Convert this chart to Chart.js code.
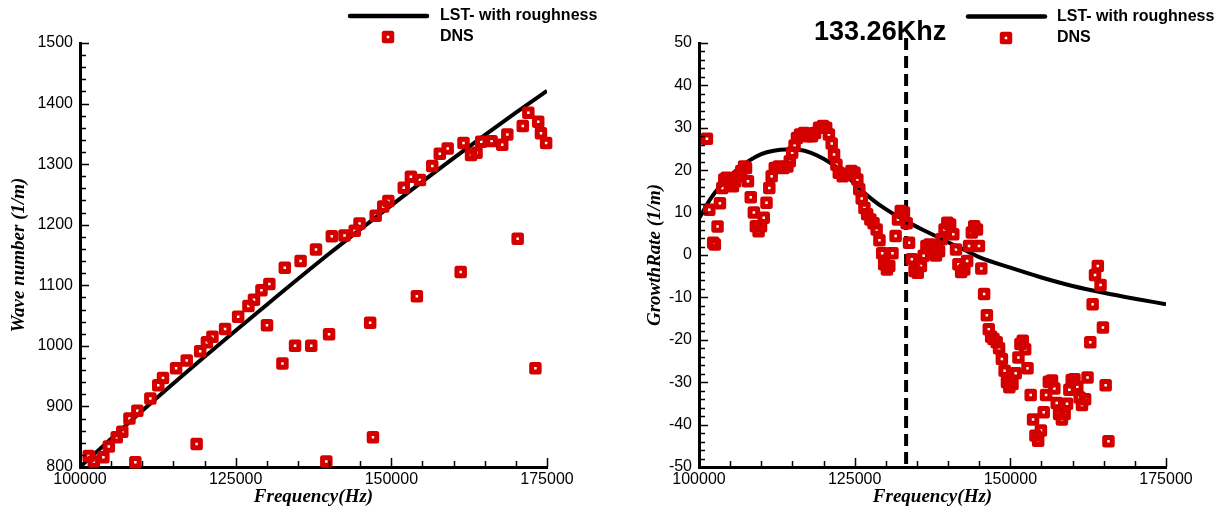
<!DOCTYPE html>
<html>
<head>
<meta charset="utf-8">
<script src="https://cdn.jsdelivr.net/npm/chart.js@4.4.0/dist/chart.umd.min.js"></script>
<style>
body{margin:0;background:#fff;}
.panel{position:absolute;top:0;width:614px;height:514px;}
#left{left:0;}
#right{left:614px;}
</style>
</head>
<body>
<div class="panel" id="left"><canvas id="waveChart" width="614" height="514"></canvas></div>
<div class="panel" id="right"><canvas id="growthChart" width="614" height="514"></canvas></div>
<script>
// wave number against frequency
const waveLstFreq=[100000,110000,120000,130000,140000,150000,160000,170000,175000];
const waveLst=[800,893,982,1068,1152,1232,1310,1385,1421];

const waveDnsFreq=[101400,102220,103750,104630,105900,106790,107940,108890,109210,111300,
112570,113330,115430,117140,118730,119300,120380,121270,123300,125400,
127050,127940,129140,130410,130030,132510,132890,134540,135430,137140,
137900,139560,140000,140440,142480,144130,144890,146600,147050,147490,
148700,149520,152000,153140,154600,154100,156570,157780,159050,161140,
161590,162800,163680,164440,166100,167810,168630,170290,171110,172000,
173140,173590,174030,174860];
const waveDns=[818,809,816,834,849,858,880,808,893,913,
935,947,963,976,838,991,1006,1015,1028,1048,
1066,1076,1092,1102,1034,971,1129,1000,1140,1000,
1159,809,1019,1181,1182,1190,1202,1038,849,1215,
1230,1239,1261,1279,1274,1082,1297,1317,1326,1122,
1335,1315,1319,1337,1338,1332,1349,1177,1363,1385,
963,1370,1351,1335];

// growth rate against frequency
const growthLstFreq=[100000,102000,104000,106000,108000,110000,112000,114000,116000,118000,
120000,122000,124000,126000,128000,130000,132000,134000,136000,138000,
140000,142500,145000,150000,155000,160000,165000,170000,175000];
const growthLst=[8.6,13.6,17.2,20.0,22.2,23.8,24.6,24.9,24.8,24.1,
22.7,20.8,18.2,15.4,12.9,10.8,9.0,7.4,5.9,4.5,
3.0,1.3,-0.5,-3.0,-5.3,-7.3,-8.9,-10.3,-11.6];

const growthDnsFreq=[101270,101650,102280,102540,102980,103360,103740,104060,104440,105010,
105450,105830,106280,106790,107230,107550,107860,108310,108810,109130,
109570,109960,110400,110840,111290,111670,112170,112810,113570,114200,
114580,114960,115350,115730,116230,116870,117500,118140,118640,119280,
119910,120420,120860,121310,121690,122070,122450,123080,123720,124480,
124980,125430,125740,126130,126570,127010,127520,128030,128530,128980,
129420,129740,130180,130560,131070,131580,131960,132400,132910,133350,
133730,134180,134620,135130,135640,136080,136520,137030,137540,138050,
138550,138930,139440,139880,140330,140840,141280,141660,142100,142610,
143060,143370,143820,144200,144640,144960,145340,145790,146230,146540,
146920,147300,147810,148190,148640,149080,149460,149840,150350,150860,
151300,151620,152000,152380,152760,153270,153650,154030,154470,154910,
155360,155740,156180,156690,157070,157450,157830,158280,158720,159100,
159480,159860,160300,160750,161130,161510,162010,162400,162840,163220,
163600,164050,164490,164870,165310,165760];
const growthDns=[27.4,10.7,2.9,2.5,6.7,12.2,15.8,17.8,18.2,16.6,
16.2,17.4,18.6,19.8,20.9,20.5,17.4,13.6,10.0,6.8,
5.6,6.8,8.8,12.3,15.8,18.6,20.5,20.9,20.5,20.9,
22.1,24.1,25.8,27.6,28.4,28.8,28.0,28.0,28.8,30.0,
30.4,30.0,28.4,26.3,23.7,21.3,19.4,18.6,19.0,19.8,
19.4,17.8,15.5,13.3,11.1,9.6,8.4,7.5,6.0,3.5,
0.4,-2.2,-3.4,-2.6,0.4,4.5,8.4,10.4,10.0,7.5,
2.9,-1.0,-3.8,-4.2,-2.6,-0.2,2.1,2.5,1.7,-0.1,
0.9,3.7,6.0,7.6,7.2,4.9,1.3,-2.2,-4.0,-3.4,
-1.4,2.1,5.3,6.8,6.0,2.1,-3.2,-9.2,-14.2,-17.5,
-19.3,-19.8,-20.6,-22.0,-24.5,-27.3,-30.0,-31.2,-30.4,-27.9,
-24.2,-21.0,-20.2,-22.2,-26.7,-33.0,-38.8,-42.6,-43.8,-41.4,
-37.1,-33.0,-29.9,-29.6,-31.5,-34.9,-37.5,-38.8,-37.5,-35.1,
-31.8,-29.5,-29.3,-31.1,-33.6,-35.4,-34.0,-28.9,-20.6,-11.6,
-4.7,-2.6,-7.1,-17.1,-30.7,-43.9];

const markFreq=133260;
const markLabel="133.26Khz";
const lstLabel="LST- with roughness";
const dnsLabel="DNS";
const freqTitle="Frequency(Hz)";
const waveTitle="Wave number (1/m)";
const growthTitle="GrowthRate (1/m)";

const red="#d40000";
const sans='"Liberation Sans", Arial, sans-serif';
const serif='"Liberation Serif", "Times New Roman", serif';

Chart.defaults.font.family=sans;
Chart.defaults.font.size=16;
Chart.defaults.color="#000";

function pts(xs,ys){
return xs.map((x,i)=>({x:x,y:ys[i]}));
}

// inward ticks, the dashed frequency marker and the legend block
const frame={
id:"frame",
beforeDatasetsDraw(chart,args,o){
const {ctx,chartArea:a,scales:{x}}=chart;
if(o.mark){
const px=x.getPixelForValue(o.mark.value);
ctx.save();
ctx.strokeStyle="#000";
ctx.lineWidth=4;
ctx.setLineDash([12,6]);
ctx.beginPath();
ctx.moveTo(px,o.mark.top);
ctx.lineTo(px,a.bottom);
ctx.stroke();
ctx.restore();
}
ctx.lineJoin="round";
},
afterDraw(chart,args,o){
const {ctx,chartArea:a,scales:{x,y}}=chart;
ctx.save();
ctx.strokeStyle="#000";
ctx.lineWidth=1.5;
ctx.beginPath();
let n=Math.round((x.max-x.min)/o.xMinor);
for(let i=0;i<=n;i++){
const px=Math.round(x.getPixelForValue(x.min+i*o.xMinor))+0.5;
const len=i%o.every===0?9:6;
ctx.moveTo(px,a.bottom);
ctx.lineTo(px,a.bottom-len);
}
n=Math.round((y.max-y.min)/o.yMinor);
for(let i=0;i<=n;i++){
const py=Math.round(y.getPixelForValue(y.min+i*o.yMinor))+0.5;
const len=i%o.every===0?9:6;
ctx.moveTo(a.left,py);
ctx.lineTo(a.left+len,py);
}
ctx.stroke();

if(o.mark){
const px=x.getPixelForValue(o.mark.value);
ctx.font="bold 27px "+sans;
ctx.fillStyle="#000";
ctx.textAlign="center";
ctx.textBaseline="alphabetic";
ctx.fillText(o.mark.label,px+o.mark.dx,o.mark.ty);
}

const L=o.legend;
const ds=chart.data.datasets;
ctx.lineCap="round";
ctx.lineWidth=4.5;
ctx.beginPath();
ctx.moveTo(L.x1,L.y1);
ctx.lineTo(L.x2,L.y1);
ctx.stroke();
ctx.lineCap="butt";
ctx.lineJoin="round";
ctx.strokeStyle=red;
ctx.lineWidth=5;
ctx.strokeRect(L.mx-3.75,L.y2-3.75,7.5,7.5);
ctx.font="bold 16px "+sans;
ctx.fillStyle="#000";
ctx.textAlign="left";
ctx.textBaseline="middle";
ctx.fillText(ds[0].label,L.tx,L.y1);
ctx.fillText(ds[1].label,L.tx,L.y2);
ctx.restore();
}
};

function makeChart(id,c){
return new Chart(document.getElementById(id),{
type:"scatter",
data:{
datasets:[
{label:lstLabel,data:pts(c.lstX,c.lstY),showLine:true,borderColor:"#000",borderWidth:4,
pointRadius:0,cubicInterpolationMode:"monotone",order:1},
{label:dnsLabel,data:pts(c.dnsX,c.dnsY),pointStyle:"rect",pointRadius:5.3,borderWidth:5,
borderColor:red,backgroundColor:"rgba(0,0,0,0)",clip:false,order:0}
]
},
options:{
responsive:false,
animation:false,
layout:{padding:{left:0,right:c.padRight,top:43,bottom:0}},
plugins:{
legend:{display:false},
tooltip:{enabled:false},
frame:{xMinor:5000,yMinor:c.yMinor,every:5,mark:c.mark,legend:c.legend}
},
scales:{
x:{
type:"linear",min:100000,max:175000,
afterFit:s=>{s.height=47;},
grid:{display:false,drawTicks:false},
border:{display:true,color:"#000",width:3},
ticks:{stepSize:25000,padding:3,maxRotation:0,autoSkip:false,callback:v=>String(v)},
title:{display:true,text:freqTitle,padding:{top:0,bottom:6},
font:{family:serif,size:19,style:"italic",weight:"bold"}}
},
y:{
type:"linear",min:c.yMin,max:c.yMax,
afterFit:s=>{s.width=c.yWidth;},
grid:{display:false,drawTicks:false},
border:{display:true,color:"#000",width:3},
ticks:{stepSize:c.yStep,padding:7,autoSkip:false,callback:v=>String(v)},
title:{display:true,text:c.yTitle,padding:{top:c.titlePad,bottom:0},
font:{family:serif,size:19,style:"italic",weight:"bold"}}
}
}
},
plugins:[frame]
});
}

makeChart("waveChart",{
lstX:waveLstFreq,lstY:waveLst,dnsX:waveDnsFreq,dnsY:waveDns,
yMin:800,yMax:1500,yStep:100,yMinor:20,yTitle:waveTitle,
yWidth:80,padRight:67,titlePad:8,
legend:{x1:350,x2:427,y1:16,y2:37,mx:388,tx:440}
});

makeChart("growthChart",{
lstX:growthLstFreq,lstY:growthLst,dnsX:growthDnsFreq,dnsY:growthDns,
yMin:-50,yMax:50,yStep:10,yMinor:2,yTitle:growthTitle,
yWidth:85,padRight:62,titlePad:30,
mark:{value:markFreq,label:markLabel,top:38,dx:-26,ty:40},
legend:{x1:354,x2:431,y1:16.5,y2:38,mx:392,tx:443}
});
</script>
</body>
</html>
